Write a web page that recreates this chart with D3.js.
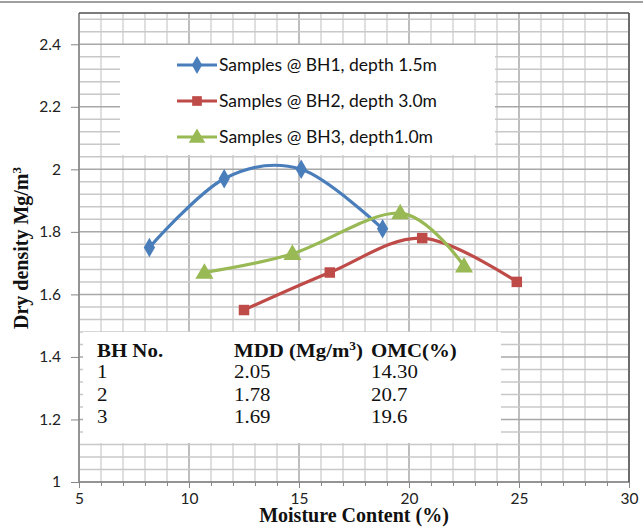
<!DOCTYPE html>
<html><head><meta charset="utf-8">
<script src="https://cdn.jsdelivr.net/npm/d3@7"></script>
<style>body{margin:0;background:#fff}svg{display:block}</style>
</head><body>
<svg id="c" width="643" height="528"></svg>
<script>
// ---- data ----
const seriesNames = ["Samples @ BH1, depth 1.5m", "Samples @ BH2, depth 3.0m", "Samples @ BH3, depth1.0m"];
const bh1Moisture = [8.2, 11.6, 15.1, 18.8];
const bh1Density  = [1.75, 1.97, 2.00, 1.81];
const bh2Moisture = [12.5, 16.4, 20.6, 24.9];
const bh2Density  = [1.55, 1.67, 1.78, 1.64];
const bh3Moisture = [10.7, 14.7, 19.6, 22.5];
const bh3Density  = [1.67, 1.73, 1.86, 1.69];
const xTicks = [5, 10, 15, 20, 25, 30];
const yTicks = [1, 1.2, 1.4, 1.6, 1.8, 2, 2.2, 2.4];
const tableHeader = ["BH No.", "MDD (Mg/m\u00B3)", "OMC(%)"];
const tableBH  = ["1", "2", "3"];
const tableMDD = ["2.05", "1.78", "1.69"];
const tableOMC = ["14.30", "20.7", "19.6"];
const colors = ["#4A7EBB", "#BE4B48", "#98B954"];
const symbols = [d3.symbolDiamond, d3.symbolSquare, d3.symbolTriangle];

const svg = d3.select("#c");
const L = 79, R = 629, T = 13, B = 482;
const x = d3.scaleLinear().domain([5, 30]).range([L, R]);
const y = d3.scaleLinear().domain([1, 2.5]).range([B, T]);

// top border of chart area
svg.append("line").attr("x1", 0).attr("x2", 643).attr("y1", 2).attr("y2", 2)
  .attr("stroke", "#a0a0a0").attr("stroke-width", 2);

// gridlines
const g = svg.append("g");
d3.range(5, 30.01, 1).forEach(v => {
  const major = Math.abs(v % 5) < 1e-6;
  g.append("line").attr("x1", x(v)).attr("x2", x(v)).attr("y1", T).attr("y2", B)
    .attr("stroke", major ? "#a8a8a8" : "#d4d4d4").attr("stroke-width", 1.5);
});
d3.range(0, 38).forEach(i => {
  const v = 1 + i * 0.04;
  const major = i % 5 === 0;
  g.append("line").attr("x1", L).attr("x2", R).attr("y1", y(v)).attr("y2", y(v))
    .attr("stroke", major ? "#a8a8a8" : "#c8c8c8").attr("stroke-width", 1.5);
});

// white boxes (legend + table)
svg.append("rect").attr("x", 120).attr("y", 45).attr("width", 375).attr("height", 110).attr("fill", "#fff");
svg.append("rect").attr("x", 83).attr("y", 332).attr("width", 418).attr("height", 111).attr("fill", "#fff");

// axes lines / border
svg.append("line").attr("x1", L).attr("x2", L).attr("y1", T).attr("y2", B).attr("stroke", "#868686").attr("stroke-width", 1.5);
svg.append("line").attr("x1", L).attr("x2", R).attr("y1", B).attr("y2", B).attr("stroke", "#868686").attr("stroke-width", 1.5);
svg.append("line").attr("x1", R).attr("x2", R).attr("y1", T).attr("y2", B).attr("stroke", "#505050").attr("stroke-width", 1.5);
svg.append("line").attr("x1", L).attr("x2", R).attr("y1", T).attr("y2", T).attr("stroke", "#505050").attr("stroke-width", 1.5);

// y axis
const yAxis = d3.axisLeft(y).tickValues(yTicks).tickFormat(d3.format("~g")).tickSize(8).tickPadding(10);
const ya = svg.append("g").attr("transform", `translate(${L},0)`).call(yAxis);
ya.select(".domain").remove();
ya.selectAll("line").attr("stroke", "#868686");
ya.selectAll("text").attr("font-family", "Lato, 'Open Sans', sans-serif").attr("font-size", 15.5).attr("fill", "#222");

// x axis
const xMinor = d3.axisBottom(x).tickValues(d3.range(5, 30.01, 1)).tickSize(4).tickFormat("");
const xm = svg.append("g").attr("transform", `translate(0,${B})`).call(xMinor);
xm.select(".domain").remove();
xm.selectAll("line").attr("stroke", "#868686");
const xAxis = d3.axisBottom(x).tickValues(xTicks).tickSize(6).tickPadding(5).tickFormat(d3.format("d"));
const xa = svg.append("g").attr("transform", `translate(0,${B})`).call(xAxis);
xa.select(".domain").remove();
xa.selectAll("line").attr("stroke", "#868686");
xa.selectAll("text").attr("font-family", "Lato, 'Open Sans', sans-serif").attr("font-size", 15.5).attr("fill", "#222");

// axis titles
svg.append("text").attr("x", 354).attr("y", 522).attr("text-anchor", "middle")
  .attr("font-family", "'Liberation Serif', 'Times New Roman', serif").attr("font-weight", "bold").attr("font-size", 20)
  .attr("fill", "#111").text("Moisture Content (%)");
const yt = svg.append("text").attr("transform", "translate(28,248) rotate(-90)").attr("text-anchor", "middle")
  .attr("font-family", "'Liberation Serif', 'Times New Roman', serif").attr("font-weight", "bold").attr("font-size", 20)
  .attr("fill", "#111");
yt.append("tspan").text("Dry density Mg/m");
yt.append("tspan").attr("dy", -7).attr("font-size", 13).text("3");

// series
const series = [
  bh1Moisture.map((m, i) => [m, bh1Density[i]]),
  bh2Moisture.map((m, i) => [m, bh2Density[i]]),
  bh3Moisture.map((m, i) => [m, bh3Density[i]])
];
const line = d3.line().x(d => x(d[0])).y(d => y(d[1])).curve(d3.curveCardinal.tension(0));
const symSizes = [110, 110, 140];
series.forEach((s, k) => {
  svg.append("path").attr("d", line(s)).attr("fill", "none").attr("stroke", colors[k]).attr("stroke-width", 3.2);
  s.forEach(d => {
    svg.append("path").attr("d", d3.symbol(symbols[k], symSizes[k])())
      .attr("transform", `translate(${x(d[0])},${y(d[1]) + (k === 2 ? 1 : 0)})`)
      .attr("fill", colors[k]);
  });
});

// legend
const legY = [65, 101, 137];
const legW = [218, 218, 214];
seriesNames.forEach((n, k) => {
  svg.append("line").attr("x1", 177).attr("x2", 217).attr("y1", legY[k]).attr("y2", legY[k])
    .attr("stroke", colors[k]).attr("stroke-width", 3.2);
  svg.append("path").attr("d", d3.symbol(symbols[k], symSizes[k] * 0.85)())
    .attr("transform", `translate(197,${legY[k] + (k === 2 ? 1 : 0)})`).attr("fill", colors[k]);
  svg.append("text").attr("x", 219).attr("y", legY[k] + 6)
    .attr("font-family", "Lato, 'Open Sans', sans-serif").attr("font-size", 16.5).attr("fill", "#111")
    .attr("textLength", legW[k]).attr("lengthAdjust", "spacingAndGlyphs").text(n);
});

// table
const colX = [97, 234, 371];
const serif = "'Liberation Serif', 'Times New Roman', serif";
const sx = 1.16;
tableHeader.forEach((h, i) => {
  const t = svg.append("text").attr("transform", `translate(${colX[i]},357) scale(${sx},1)`).attr("font-family", serif)
    .attr("font-weight", "bold").attr("font-size", 18).attr("fill", "#111");
  if (h.includes("\u00B3")) {
    t.append("tspan").text("MDD (Mg/m");
    t.append("tspan").attr("dy", -7).attr("font-size", 11.5).text("3");
    t.append("tspan").attr("dy", 7).text(")");
  } else t.text(h);
});
const rowY = [378, 401, 423];
[tableBH, tableMDD, tableOMC].forEach((col, i) => {
  col.forEach((v, r) => {
    svg.append("text").attr("transform", `translate(${colX[i]},${rowY[r]}) scale(${sx},1)`).attr("font-family", serif)
      .attr("font-size", 18).attr("fill", "#111").text(v);
  });
});
</script>
</body></html>
